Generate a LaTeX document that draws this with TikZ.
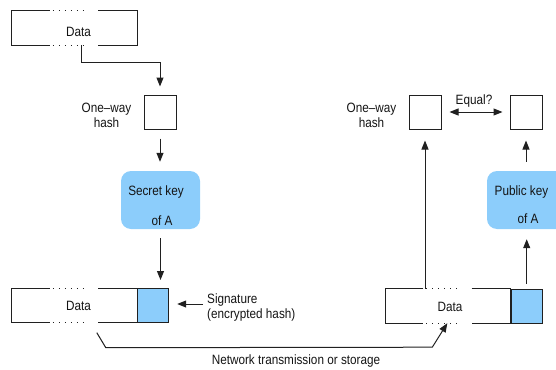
\documentclass[tikz,border=0pt]{standalone}
\usepackage{fontspec}
\setmainfont{Liberation Sans}[FakeStretch=0.87]
\usetikzlibrary{arrows.meta,calc}

\definecolor{keyblue}{HTML}{8CCDFB}
\definecolor{inkline}{HTML}{202020}

\tikzset{
  edge/.style={draw=inkline,line width=1pt},
  dots/.style={draw=inkline,line width=1pt,dash pattern=on 1pt off 5pt},
  arr/.style={edge,-{Triangle[length=9pt,width=7pt]}},
  dualarr/.style={edge,{Triangle[length=9pt,width=7pt]}-{Triangle[length=9pt,width=7pt]}},
  databox/.style={rectangle,inner sep=0pt,minimum width=125pt,minimum height=34pt},
  sigbox/.style={rectangle,draw=inkline,line width=1pt,fill=keyblue,inner sep=0pt,
                 minimum width=31pt,minimum height=34pt,anchor=west},
  hashbox/.style={rectangle,draw=inkline,line width=1pt,inner sep=0pt,
                  minimum width=32pt,minimum height=34pt},
  keybox/.style={rectangle,rounded corners=10pt,fill=keyblue,inner sep=0pt,
                 minimum width=79pt,minimum height=58pt},
  lbl/.style={inner sep=0pt,font=\fontsize{13.5}{15.5}\selectfont,text=black!92},
}

% outline of a data block: solid ends, dotted middle on top and bottom
\newcommand\framedata[1]{%
  \draw[edge] ($(#1.north west)+(38,0)$) -- (#1.north west) -- (#1.south west) -- ++(38,0);
  \draw[edge] ($(#1.north east)+(-39,0)$) -- (#1.north east) -- (#1.south east) -- ++(-39,0);
  \draw[dots] ($(#1.north west)+(41,0)$) -- ++(35,0);
  \draw[dots] ($(#1.south west)+(41,0)$) -- ++(35,0);
}

\begin{document}
\begin{tikzpicture}[x=1pt,y=-1pt]
\clip (0,0) rectangle (556,369);

% ---- sender side ----
\node[databox] (d1) at (74.5,28) {};
\framedata{d1}
\node[lbl] (d1t) at (78.5,32) {Data};

\node[hashbox] (h1) at (160,112) {};
\node[lbl,align=center,anchor=east] (h1t) at ($(h1.west)+(-12,3.5)$) {One–way\\hash};

\node[keybox] (skey) at (160.5,200) {};
\node[lbl] (skeyt1) at ($(skey.center)+(-4.5,-8)$) {Secret key};
\node[lbl] (skeyt2) at ($(skey.center)+(1.5,21)$) {of A};

\node[databox] (d2) at (74.5,305.5) {};
\node[sigbox] (s2) at (d2.east) {};
\framedata{d2}
\node[lbl] (d2t) at (78.5,306) {Data};

\node[lbl,align=left,anchor=west] (sigt) at (207,307.5) {Signature\\(encrypted hash)};

% ---- receiver side ----
\node[databox] (d3) at (448,306) {};
\node[sigbox] (s3) at (d3.east) {};
\framedata{d3}
\node[lbl] (d3t) at (450,307) {Data};

\node[hashbox] (h2) at (425,112) {};
\node[lbl,align=center,anchor=east] (h2t) at ($(h2.west)+(-12,3.5)$) {One–way\\hash};

\node[hashbox] (h3) at (526,112) {};
\node[lbl] (eq) at (474,101) {Equal?};

\node[keybox] (pkey) at (526.5,200) {};
\node[lbl] (pkeyt1) at ($(pkey.center)+(-5,-8)$) {Public key};
\node[lbl] (pkeyt2) at ($(pkey.center)+(1.5,19)$) {of A};

% ---- connectors ----
\coordinate (c1) at ($(d1.south west)+(69.5,0)$);
\draw[arr,shorten >=8pt] (c1) -- ++(0,17) -| (h1.north);
\draw[arr,shorten <=9pt,shorten >=9pt] (h1.south) -- (skey.north -| h1.south);
\draw[arr,shorten <=9pt,shorten >=8pt] (skey.south) -- (skey.south |- s2.north);
\coordinate (sa) at ($(sigt.west)+(-4,-3.5)$);
\draw[arr,shorten >=8pt] (sa) -- (sa -| s2.east);

\coordinate (n1) at ($(d2.south west)+(85,10)$);
\coordinate (n4) at ($(d3.south west)+(62,0)$);
\draw[arr] (n1) -- ++(9,15) -- ($(n4)+(-15,24)$) -- (n4);
\node[lbl] (net) at (296,361) {Network transmission or storage};

\draw[arr,shorten >=11pt] (d3.north -| h2.south) -- (h2.south);
\draw[arr,shorten <=5pt,shorten >=10pt] (s3.north) -- (pkey.south -| s3.north);
\draw[arr,shorten <=9pt,shorten >=11pt] (pkey.north -| h3.south) -- (h3.south);
\draw[dualarr,shorten <=8pt,shorten >=7pt] (h2.east) -- (h3.west);
\end{tikzpicture}
\end{document}
